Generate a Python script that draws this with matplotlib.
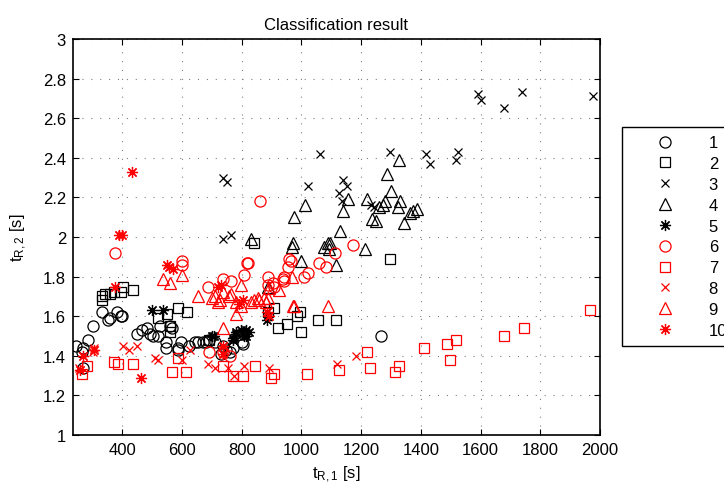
import matplotlib
matplotlib.use('Agg')
import matplotlib.pyplot as plt

plt.rcParams['font.family'] = ['Liberation Sans', 'DejaVu Sans']

# class 1 - black circles
c1_x = [245, 269, 266, 286, 303, 333, 353, 360, 383, 397, 400, 270, 450, 467, 484, 494, 504, 521, 528,
        545, 545, 561, 565, 585, 585, 598, 622, 645, 655, 669, 679, 689, 709, 729, 746, 760, 770, 803,
        739, 800, 1267]
c1_y = [1.45, 1.44, 1.42, 1.48, 1.55, 1.62, 1.58, 1.59, 1.62, 1.60, 1.60, 1.34, 1.51, 1.53, 1.54, 1.51,
        1.50, 1.50, 1.55, 1.47, 1.44, 1.55, 1.54, 1.44, 1.43, 1.47, 1.45, 1.47, 1.47, 1.47, 1.47, 1.48,
        1.47, 1.41, 1.43, 1.42, 1.44, 1.46, 1.45, 1.47, 1.50]
# class 2 - black squares
c2_x = [333, 333, 343, 360, 373, 397, 403, 437, 521, 551, 588, 618, 561, 561, 692, 840, 1297, 887, 908,
        985, 995, 921, 951, 998, 1055, 1116]
c2_y = [1.68, 1.70, 1.71, 1.71, 1.72, 1.72, 1.75, 1.73, 1.59, 1.61, 1.64, 1.62, 1.55, 1.52, 1.48, 1.97,
        1.89, 1.62, 1.64, 1.60, 1.62, 1.54, 1.56, 1.52, 1.58, 1.58]
# class 3 - black x
c3_x = [1590, 1600, 1680, 1738, 1976, 1418, 1432, 1519, 1526, 1297, 1062, 1022, 1139, 1153, 1126, 1136,
        1234, 1244, 736, 750, 736, 763]
c3_y = [2.72, 2.69, 2.65, 2.73, 2.71, 2.42, 2.37, 2.39, 2.43, 2.43, 2.42, 2.26, 2.29, 2.26, 2.22, 2.18,
        2.16, 2.15, 2.30, 2.28, 1.99, 2.01]
# class 4 - black triangles
c4_x = [1328, 1287, 1301, 1220, 1156, 1012, 975, 1139, 1237, 1250, 1260, 1274, 1281, 1324, 1331, 1365,
        1375, 1388, 1344, 1129, 1213, 830, 971, 968, 1076, 1089, 1096, 1092, 1116, 998, 887]
c4_y = [2.39, 2.32, 2.23, 2.19, 2.19, 2.16, 2.10, 2.13, 2.09, 2.08, 2.15, 2.16, 2.18, 2.15, 2.18, 2.12,
        2.13, 2.14, 2.07, 2.03, 1.94, 1.99, 1.97, 1.95, 1.95, 1.97, 1.97, 1.94, 1.86, 1.88, 1.75]
# class 5 - black asterisks
c5_x = [501, 538, 702, 706, 770, 780, 797, 813, 823, 807, 770, 780, 813, 884, 887]
c5_y = [1.63, 1.63, 1.50, 1.50, 1.48, 1.52, 1.53, 1.53, 1.52, 1.50, 1.49, 1.51, 1.50, 1.58, 1.60]
# class 6 - red circles
c6_x = [377, 601, 601, 686, 739, 763, 807, 820, 860, 1173, 1112, 817, 965, 1059, 1082, 1022, 1008,
        887, 904, 941, 941, 887, 908, 958, 954, 938, 689, 739, 760]
c6_y = [1.92, 1.88, 1.86, 1.75, 1.79, 1.78, 1.81, 1.87, 2.18, 1.96, 1.92, 1.87, 1.88, 1.87, 1.85, 1.82,
        1.80, 1.80, 1.77, 1.80, 1.78, 1.76, 1.75, 1.89, 1.85, 1.79, 1.42, 1.42, 1.40]
# class 7 - red squares
c7_x = [266, 282, 373, 387, 437, 568, 612, 736, 770, 803, 588, 897, 908, 1018, 1126, 1220, 1230, 1314,
        1328, 1412, 844, 1486, 1519, 1499, 1680, 1744, 1966]
c7_y = [1.31, 1.35, 1.37, 1.36, 1.36, 1.32, 1.32, 1.35, 1.30, 1.30, 1.39, 1.29, 1.31, 1.31, 1.33, 1.42,
        1.34, 1.32, 1.35, 1.44, 1.35, 1.46, 1.48, 1.38, 1.50, 1.54, 1.63]
# class 8 - red x
c8_x = [255, 306, 303, 403, 423, 450, 511, 521, 601, 628, 686, 709, 753, 807, 891, 1119, 1183, 773]
c8_y = [1.34, 1.44, 1.42, 1.45, 1.43, 1.45, 1.39, 1.38, 1.38, 1.43, 1.36, 1.34, 1.34, 1.35, 1.34, 1.36,
        1.40, 1.30]
# class 9 - red triangles
c9_x = [538, 561, 601, 652, 702, 712, 719, 739, 780, 797, 739, 797, 924, 968, 1089, 975, 763, 830, 840,
        853, 874, 880, 891, 726, 756, 780, 857, 887, 971]
c9_y = [1.79, 1.77, 1.81, 1.70, 1.69, 1.70, 1.67, 1.72, 1.61, 1.65, 1.54, 1.76, 1.73, 1.80, 1.65, 1.65,
        1.71, 1.67, 1.68, 1.69, 1.69, 1.67, 1.74, 1.68, 1.70, 1.67, 1.68, 1.69, 1.65]
# class 10 - red asterisks
c10_x = [433, 377, 390, 400, 269, 259, 306, 464, 551, 558, 571, 739, 736, 803, 790, 729, 719, 884, 890]
c10_y = [2.33, 1.75, 2.01, 2.01, 1.40, 1.33, 1.43, 1.29, 1.86, 1.85, 1.84, 1.45, 1.41, 1.68, 1.66, 1.76,
         1.75, 1.62, 1.60]

labels = ['1', '2', '3', '4', '5', '6', '7', '8', '9', '10']
xs = [c1_x, c2_x, c3_x, c4_x, c5_x, c6_x, c7_x, c8_x, c9_x, c10_x]
ys = [c1_y, c2_y, c3_y, c4_y, c5_y, c6_y, c7_y, c8_y, c9_y, c10_y]

markers = ['o', 's', 'x', '^', (8, 2, 0), 'o', 's', 'x', '^', (8, 2, 0)]
sizes = [8, 7, 5.5, 9, 8, 8, 7, 5.5, 9, 8]
colors = ['black'] * 5 + ['red'] * 5

fig = plt.figure(figsize=(7.24, 4.89), dpi=100)
ax = fig.add_axes([73 / 724, 53 / 489, 527 / 724, 396 / 489])

for i in range(10):
    ax.plot(xs[i], ys[i], linestyle='none', marker=markers[i], markersize=sizes[i],
            markerfacecolor='none', markeredgecolor=colors[i], markeredgewidth=0.9,
            label=labels[i])

ax.set_xlim(235, 2000)
ax.set_ylim(1, 3)
ax.set_xticks(range(400, 2001, 200))
ax.set_yticks([1, 1.2, 1.4, 1.6, 1.8, 2, 2.2, 2.4, 2.6, 2.8, 3])
ax.set_yticklabels(['1', '1.2', '1.4', '1.6', '1.8', '2', '2.2', '2.4', '2.6', '2.8', '3'])
ax.tick_params(direction='in', top=True, right=True, labelsize=12, length=4, pad=5)
ax.grid(True, linestyle=(0, (1, 7)), color='gray', linewidth=0.8)
for s in ax.spines.values():
    s.set_linewidth(1.2)

ax.set_title('Classification result', fontsize=12, pad=7)
ax.set_xlabel(r'$\mathregular{t_{R,1}}$ [s]', fontsize=12, labelpad=5)
ax.set_ylabel(r'$\mathregular{t_{R,2}}$ [s]', fontsize=12, labelpad=10)

leg = fig.legend(loc='upper left', bbox_to_anchor=(622 / 724, 1 - 128 / 489),
                 bbox_transform=fig.transFigure, fontsize=12, numpoints=1,
                 handlelength=4.2, handletextpad=0.5, labelspacing=0.35,
                 borderpad=0.5, borderaxespad=0, fancybox=False, framealpha=1)
leg.get_frame().set_edgecolor('black')
leg.get_frame().set_linewidth(1.0)

fig.savefig('out.png', dpi=100)
